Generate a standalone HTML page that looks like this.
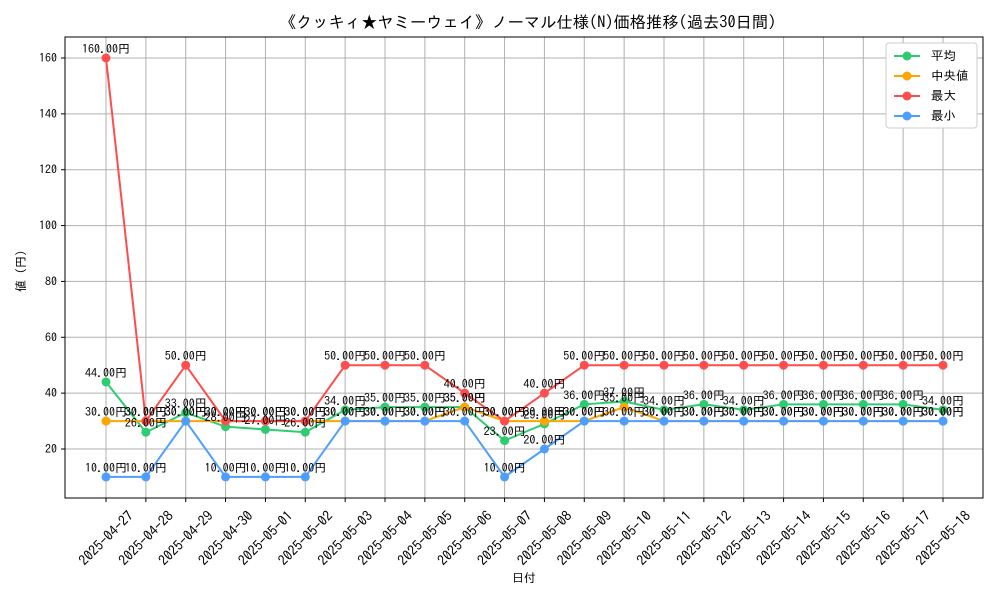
<!DOCTYPE html>
<html><head><meta charset="utf-8"><style>
body{margin:0;background:#fff}
text{font-family:"IPAGothic","Liberation Sans","Noto Sans CJK JP",sans-serif;fill:#000}
</style></head><body>
<svg id="c" width="1000" height="600">
<rect width="1000" height="600" fill="#fff"/>
<text x="528" y="28" font-size="16.3" text-anchor="middle">《クッキィ★ヤミーウェイ》ノーマル仕様(N)価格推移(過去30日間)</text>
<g id="grid"></g>
<rect x="65" y="37" width="918" height="461" fill="none" stroke="#000" stroke-width="1"/>
<g id="axes"></g>
<g id="series"></g>
<g id="labels"></g>
<text x="524" y="582" font-size="12" text-anchor="middle">日付</text>
<text transform="translate(25,268) rotate(-90)" font-size="12" text-anchor="middle">値（円）</text>
<g id="legend"></g>
</svg>
<script>
const dates=["2025-04-27","2025-04-28","2025-04-29","2025-04-30","2025-05-01","2025-05-02","2025-05-03","2025-05-04","2025-05-05","2025-05-06","2025-05-07","2025-05-08","2025-05-09","2025-05-10","2025-05-11","2025-05-12","2025-05-13","2025-05-14","2025-05-15","2025-05-16","2025-05-17","2025-05-18"];
const avgVals=[44,26,33,28,27,26,34,35,35,35,23,29,36,37,34,36,34,36,36,36,36,34];
const medVals=[30,30,30,30,30,30,30,30,30,35,30,30,30,35,30,30,30,30,30,30,30,30];
const maxVals=[160,30,50,30,30,30,50,50,50,40,30,40,50,50,50,50,50,50,50,50,50,50];
const minVals=[10,10,30,10,10,10,30,30,30,30,10,20,30,30,30,30,30,30,30,30,30,30];
const yTicks=[20,40,60,80,100,120,140,160];
const NS="http://www.w3.org/2000/svg";
function X(i){return 106+i*(943-106)/(dates.length-1);}
function Y(v){return 449-(v-20)*(449-58)/140;}
function mk(tag,attrs,parent,txt){const e=document.createElementNS(NS,tag);for(const k in attrs)e.setAttribute(k,attrs[k]);if(txt!==undefined)e.textContent=txt;parent.appendChild(e);return e;}
const grid=document.getElementById('grid'),axes=document.getElementById('axes');
yTicks.forEach(t=>{const y=Y(t);
const g=mk('line',{x1:65,x2:983,y1:y,y2:y,stroke:'#b0b0b0','stroke-width':1},grid);

mk('line',{x1:61,x2:65,y1:y,y2:y,stroke:'#000'},axes);
const l=mk('text',{x:57,y:y+4,'font-size':12,'text-anchor':'end'},axes,String(t));
});
dates.forEach((d,i)=>{const x=X(i);
const g=mk('line',{x1:x,x2:x,y1:37,y2:498,stroke:'#b0b0b0','stroke-width':1},grid);

mk('line',{x1:x,x2:x,y1:498,y2:502,stroke:'#000'},axes);
const l=mk('text',{transform:`translate(${x},${538}) rotate(-45)`,'font-size':14,'text-anchor':'middle','dominant-baseline':'central'},axes,d);
});
const series=[["平均",avgVals,"#2ecc71","avg"],["中央値",medVals,"#ffa500","median"],["最大",maxVals,"#ff4d4d","max"],["最小",minVals,"#4d9eff","min"]];
const sg=document.getElementById('series'),lg=document.getElementById('labels'),leg=document.getElementById('legend');
series.forEach(([name,vals,col,key])=>{
const g=mk('g',{},sg);

const p=mk('polyline',{points:vals.map((v,i)=>X(i)+','+Y(v)).join(' '),fill:'none',stroke:col,'stroke-width':2},g);

vals.forEach((v,i)=>{const c=mk('circle',{cx:X(i),cy:Y(v),r:4.5,fill:col},g);

const t=mk('text',{x:X(i),y:Y(v)-5,'font-size':12,'text-anchor':'middle'},lg,v.toFixed(2)+'円');
});
});
mk('rect',{x:886,y:43,width:91,height:85,fill:'#fff',stroke:'#ccc',rx:3},leg);
series.forEach(([name,vals,col,key],k)=>{const y=56+k*20;
const e=mk('g',{},leg);

mk('line',{x1:894,x2:920,y1:y,y2:y,stroke:col,'stroke-width':2},e);
mk('circle',{cx:907,cy:y,r:4.5,fill:col},e);
mk('text',{x:931,y:y+4,'font-size':12.5},e,name);});
</script>
</body></html>
